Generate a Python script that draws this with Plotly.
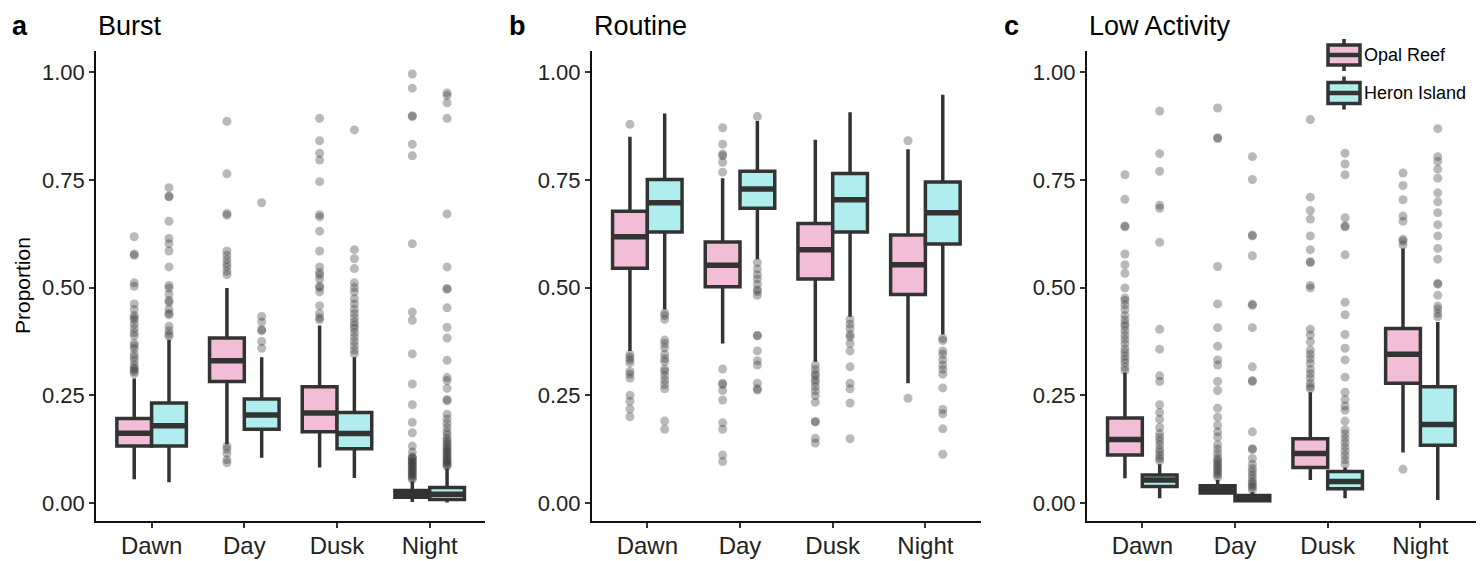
import plotly.graph_objects as go

categories = ["Dawn", "Day", "Dusk", "Night"]
sites = ["Opal Reef", "Heron Island"]
panel_titles = ["Burst", "Routine", "Low Activity"]
panel_letters = ["a", "b", "c"]
y_ticks = [0.0, 0.25, 0.5, 0.75, 1.0]
y_ticktext = ["0.00", "0.25", "0.50", "0.75", "1.00"]

# ---------- Burst ----------
burst_opal_q1 = [0.132, 0.282, 0.165, 0.013]
burst_opal_med = [0.162, 0.330, 0.209, 0.021]
burst_opal_q3 = [0.196, 0.383, 0.270, 0.029]
burst_opal_lo = [0.055, 0.136, 0.082, 0.002]
burst_opal_hi = [0.289, 0.499, 0.412, 0.050]
burst_opal_out = [
    [0.300, 0.305, 0.310, 0.313, 0.320, 0.330, 0.338, 0.345, 0.358, 0.365, 0.371, 0.388,
     0.395, 0.405, 0.415, 0.425, 0.430, 0.435, 0.449, 0.462, 0.503, 0.511, 0.575, 0.578, 0.618],
    [0.530, 0.538, 0.548, 0.556, 0.565, 0.575, 0.585, 0.668, 0.672, 0.764, 0.886,
     0.132, 0.125, 0.115, 0.100, 0.093],
    [0.425, 0.430, 0.440, 0.458, 0.490, 0.500, 0.503, 0.520, 0.530, 0.535, 0.548, 0.585,
     0.631, 0.664, 0.669, 0.746, 0.796, 0.812, 0.841, 0.893],
    [0.055, 0.058, 0.062, 0.065, 0.068, 0.072, 0.075, 0.078, 0.082, 0.085, 0.088, 0.092,
     0.095, 0.098, 0.102, 0.105, 0.107, 0.118, 0.132, 0.163, 0.187, 0.228, 0.276, 0.346,
     0.424, 0.443, 0.602, 0.806, 0.833, 0.897, 0.899, 0.963, 0.996],
]
burst_heron_q1 = [0.132, 0.171, 0.126, 0.008]
burst_heron_med = [0.179, 0.204, 0.161, 0.020]
burst_heron_q3 = [0.232, 0.241, 0.210, 0.036]
burst_heron_lo = [0.048, 0.105, 0.058, 0.001]
burst_heron_hi = [0.379, 0.338, 0.338, 0.080]
burst_heron_out = [
    [0.387, 0.392, 0.400, 0.410, 0.437, 0.440, 0.450, 0.466, 0.470, 0.485, 0.499, 0.505,
     0.548, 0.585, 0.602, 0.614, 0.654, 0.711, 0.712, 0.732],
    [0.359, 0.375, 0.400, 0.402, 0.420, 0.433, 0.697],
    [0.346, 0.355, 0.365, 0.375, 0.385, 0.395, 0.405, 0.412, 0.420, 0.430, 0.440, 0.450,
     0.462, 0.474, 0.490, 0.500, 0.511, 0.544, 0.567, 0.588, 0.866],
    [0.085, 0.088, 0.091, 0.095, 0.098, 0.102, 0.106, 0.110, 0.114, 0.118, 0.122, 0.126,
     0.130, 0.135, 0.140, 0.145, 0.150, 0.158, 0.165, 0.175, 0.185, 0.195, 0.206, 0.237,
     0.240, 0.266, 0.284, 0.291, 0.331, 0.383, 0.408, 0.453, 0.496, 0.498, 0.548, 0.671,
     0.893, 0.929, 0.946, 0.952],
]

# ---------- Routine ----------
routine_opal_q1 = [0.545, 0.502, 0.520, 0.484]
routine_opal_med = [0.618, 0.552, 0.588, 0.553]
routine_opal_q3 = [0.677, 0.606, 0.649, 0.622]
routine_opal_lo = [0.353, 0.370, 0.328, 0.278]
routine_opal_hi = [0.850, 0.754, 0.843, 0.821]
routine_opal_out = [
    [0.879, 0.345, 0.338, 0.332, 0.325, 0.305, 0.299, 0.290, 0.250, 0.236, 0.218, 0.200],
    [0.768, 0.791, 0.806, 0.810, 0.833, 0.871, 0.311, 0.278, 0.275, 0.261, 0.239, 0.186,
     0.171, 0.111, 0.096],
    [0.320, 0.310, 0.300, 0.295, 0.286, 0.280, 0.270, 0.260, 0.249, 0.234, 0.189, 0.188,
     0.150, 0.139],
    [0.841, 0.243],
]
routine_heron_q1 = [0.629, 0.684, 0.629, 0.601]
routine_heron_med = [0.697, 0.729, 0.704, 0.674]
routine_heron_q3 = [0.751, 0.770, 0.765, 0.745]
routine_heron_lo = [0.449, 0.566, 0.432, 0.391]
routine_heron_hi = [0.904, 0.887, 0.907, 0.948]
routine_heron_out = [
    [0.441, 0.435, 0.426, 0.378, 0.370, 0.360, 0.345, 0.335, 0.328, 0.311, 0.305, 0.295,
     0.285, 0.275, 0.265, 0.190, 0.171],
    [0.897, 0.558, 0.543, 0.530, 0.520, 0.508, 0.495, 0.491, 0.482, 0.389, 0.388, 0.353,
     0.330, 0.320, 0.278, 0.265, 0.262],
    [0.426, 0.415, 0.405, 0.391, 0.385, 0.370, 0.353, 0.316, 0.278, 0.265, 0.232, 0.149],
    [0.382, 0.377, 0.353, 0.345, 0.332, 0.320, 0.310, 0.299, 0.267, 0.217, 0.207, 0.172,
     0.113],
]

# ---------- Low Activity ----------
low_opal_q1 = [0.111, 0.023, 0.082, 0.278]
low_opal_med = [0.147, 0.032, 0.115, 0.345]
low_opal_q3 = [0.197, 0.040, 0.149, 0.405]
low_opal_lo = [0.057, 0.019, 0.053, 0.117]
low_opal_hi = [0.303, 0.053, 0.257, 0.591]
low_opal_out = [
    [0.307, 0.315, 0.325, 0.333, 0.341, 0.350, 0.358, 0.370, 0.380, 0.390, 0.400, 0.410,
     0.416, 0.425, 0.435, 0.449, 0.460, 0.470, 0.476, 0.499, 0.533, 0.553, 0.578, 0.641,
     0.643, 0.705, 0.762],
    [0.060, 0.065, 0.070, 0.075, 0.080, 0.085, 0.090, 0.095, 0.100, 0.105, 0.115, 0.125,
     0.135, 0.153, 0.165, 0.180, 0.199, 0.220, 0.261, 0.282, 0.320, 0.332, 0.364, 0.407,
     0.462, 0.549, 0.846, 0.848, 0.917],
    [0.265, 0.270, 0.278, 0.290, 0.300, 0.310, 0.324, 0.335, 0.345, 0.355, 0.374, 0.390,
     0.403, 0.499, 0.505, 0.558, 0.560, 0.588, 0.620, 0.659, 0.679, 0.710, 0.890],
    [0.599, 0.608, 0.612, 0.654, 0.666, 0.704, 0.737, 0.766, 0.078],
]
low_heron_q1 = [0.038, 0.005, 0.033, 0.134]
low_heron_med = [0.053, 0.011, 0.050, 0.182]
low_heron_q3 = [0.065, 0.017, 0.073, 0.270]
low_heron_lo = [0.011, 0.001, 0.011, 0.007]
low_heron_hi = [0.090, 0.025, 0.082, 0.420]
low_heron_out = [
    [0.098, 0.103, 0.110, 0.118, 0.125, 0.135, 0.144, 0.152, 0.161, 0.175, 0.194, 0.210,
     0.228, 0.282, 0.295, 0.357, 0.403, 0.605, 0.684, 0.691, 0.770, 0.811, 0.910],
    [0.030, 0.036, 0.040, 0.045, 0.050, 0.058, 0.065, 0.073, 0.080, 0.090, 0.103, 0.124,
     0.126, 0.165, 0.282, 0.284, 0.316, 0.407, 0.459, 0.461, 0.574, 0.620, 0.622, 0.751,
     0.804],
    [0.090, 0.100, 0.110, 0.120, 0.130, 0.140, 0.150, 0.160, 0.170, 0.190, 0.215, 0.225,
     0.240, 0.257, 0.292, 0.332, 0.359, 0.391, 0.437, 0.466, 0.576, 0.641, 0.643, 0.662,
     0.762, 0.787, 0.812],
    [0.432, 0.440, 0.450, 0.457, 0.482, 0.508, 0.510, 0.566, 0.591, 0.620, 0.646, 0.674,
     0.699, 0.720, 0.754, 0.775, 0.793, 0.804, 0.869],
]

panels = [
    [(burst_opal_q1, burst_opal_med, burst_opal_q3, burst_opal_lo, burst_opal_hi, burst_opal_out),
     (burst_heron_q1, burst_heron_med, burst_heron_q3, burst_heron_lo, burst_heron_hi, burst_heron_out)],
    [(routine_opal_q1, routine_opal_med, routine_opal_q3, routine_opal_lo, routine_opal_hi, routine_opal_out),
     (routine_heron_q1, routine_heron_med, routine_heron_q3, routine_heron_lo, routine_heron_hi, routine_heron_out)],
    [(low_opal_q1, low_opal_med, low_opal_q3, low_opal_lo, low_opal_hi, low_opal_out),
     (low_heron_q1, low_heron_med, low_heron_q3, low_heron_lo, low_heron_hi, low_heron_out)],
]

# ---------- styling ----------
W, H = 1480, 561
FONT = "Liberation Sans, Arial, sans-serif"
fills = ["#F2BDD6", "#AFEDEF"]
dark = "#333333"
point_color = "rgba(55,55,55,0.35)"
box_w = 0.375
offsets = [-0.1875, 0.1875]

x_dom_px = [(96, 485.3), (591.7, 981.0), (1086.7, 1476.0)]
y_top_px, y_bot_px = 50.7, 521.0


def px_x(p):
    return p / W


def px_y(p):
    return 1 - p / H


fig = go.Figure()

for pi, panel in enumerate(panels):
    xa = "x" if pi == 0 else f"x{pi + 1}"
    ya = "y" if pi == 0 else f"y{pi + 1}"
    # outliers first
    for si, (q1, med, q3, lo, hi, outs) in enumerate(panel):
        xs, ys = [], []
        for ci, vals in enumerate(outs):
            for v in vals:
                xs.append(ci + 1 + offsets[si])
                ys.append(v)
        fig.add_trace(go.Scatter(
            x=xs, y=ys, mode="markers", xaxis=xa, yaxis=ya, showlegend=False,
            marker=dict(size=9, color=point_color, line=dict(width=0)),
            hoverinfo="skip"))
    for si, (q1, med, q3, lo, hi, outs) in enumerate(panel):
        pos = [ci + 1 + offsets[si] for ci in range(len(categories))]
        fig.add_trace(go.Box(
            x=pos, q1=q1, median=med, q3=q3, lowerfence=lo, upperfence=hi,
            width=box_w, whiskerwidth=0, boxpoints=False,
            fillcolor=fills[si], line=dict(color=dark, width=3.5),
            xaxis=xa, yaxis=ya, showlegend=False, name=sites[si], hoverinfo="skip"))
        mx, my = [], []
        for p, m in zip(pos, med):
            mx += [p - box_w / 2, p + box_w / 2, None]
            my += [m, m, None]
        fig.add_trace(go.Scatter(
            x=mx, y=my, mode="lines", xaxis=xa, yaxis=ya, showlegend=False,
            line=dict(color=dark, width=5.5), hoverinfo="skip"))

layout = dict(
    width=W, height=H,
    margin=dict(l=0, r=0, t=0, b=0, pad=0, autoexpand=False),
    paper_bgcolor="white", plot_bgcolor="white",
    boxmode="overlay",
    font=dict(family=FONT, color="#222222"),
    showlegend=False,
)
axis_common = dict(showline=True, linecolor="#111111", linewidth=1.5,
                   ticks="outside", ticklen=5, tickwidth=1.5, tickcolor="#333333",
                   showgrid=False, zeroline=False, automargin=False)
for pi in range(3):
    xk = "xaxis" if pi == 0 else f"xaxis{pi + 1}"
    yk = "yaxis" if pi == 0 else f"yaxis{pi + 1}"
    x0, x1 = x_dom_px[pi]
    layout[xk] = dict(axis_common, domain=[px_x(x0), px_x(x1)], range=[0.4, 4.6],
                      tickvals=[1, 2, 3, 4], ticktext=categories,
                      tickfont=dict(family=FONT, size=24, color="#222222"),
                      ticklabelstandoff=-3,
                      anchor="y" if pi == 0 else f"y{pi + 1}")
    layout[yk] = dict(axis_common, domain=[px_y(y_bot_px), px_y(y_top_px)],
                      range=[-0.042, 1.050], tickvals=y_ticks, ticktext=y_ticktext,
                      tickfont=dict(family=FONT, size=22, color="#222222"),
                      anchor="x" if pi == 0 else f"x{pi + 1}")
fig.update_layout(**layout)

# titles and panel letters
letter_px = [10, 507, 1002]
for pi in range(3):
    fig.add_annotation(x=px_x(letter_px[pi]), y=px_y(26), xref="paper", yref="paper",
                       text=f"<b>{panel_letters[pi]}</b>", showarrow=False,
                       xanchor="left", yanchor="middle",
                       font=dict(family=FONT, size=27, color="black"))
    fig.add_annotation(x=px_x(x_dom_px[pi][0]), y=px_y(26), xref="paper", yref="paper",
                       text=panel_titles[pi], showarrow=False,
                       xanchor="left", yanchor="middle",
                       font=dict(family=FONT, size=27, color="black"))

fig.add_annotation(x=px_x(22), y=px_y(286), xref="paper", yref="paper",
                   text="Proportion", textangle=-90, showarrow=False,
                   xanchor="center", yanchor="middle",
                   font=dict(family=FONT, size=21, color="black"))

# custom legend (keys drawn like ggplot boxplot keys)
leg_rows = [(55, 45, 65), (93, 82.5, 103.5)]
kx0, kx1 = 1328, 1360
kxc = (kx0 + kx1) / 2
for si, (yc, yt, yb) in enumerate(leg_rows):
    fig.add_shape(type="line", xref="paper", yref="paper",
                  x0=px_x(kxc), x1=px_x(kxc), y0=px_y(yt - 6), y1=px_y(yb + 6),
                  line=dict(color=dark, width=3.5))
    fig.add_shape(type="rect", xref="paper", yref="paper",
                  x0=px_x(kx0), x1=px_x(kx1), y0=px_y(yb), y1=px_y(yt),
                  fillcolor=fills[si], line=dict(color=dark, width=3.5))
    fig.add_shape(type="line", xref="paper", yref="paper",
                  x0=px_x(kx0), x1=px_x(kx1), y0=px_y(yc), y1=px_y(yc),
                  line=dict(color=dark, width=4.5))
    fig.add_annotation(x=px_x(1362), y=px_y(yc), xref="paper", yref="paper",
                       text=sites[si], showarrow=False, xanchor="left", yanchor="middle",
                       font=dict(family=FONT, size=18, color="black"))

fig.write_html(
    "out.html",
    config=dict(displayModeBar=False, responsive=False),
    post_script="document.documentElement.style.margin='0';"
                "document.documentElement.style.overflow='hidden';"
                "document.body.style.margin='0';document.body.style.padding='0';"
                "document.body.style.overflow='hidden';",
)
